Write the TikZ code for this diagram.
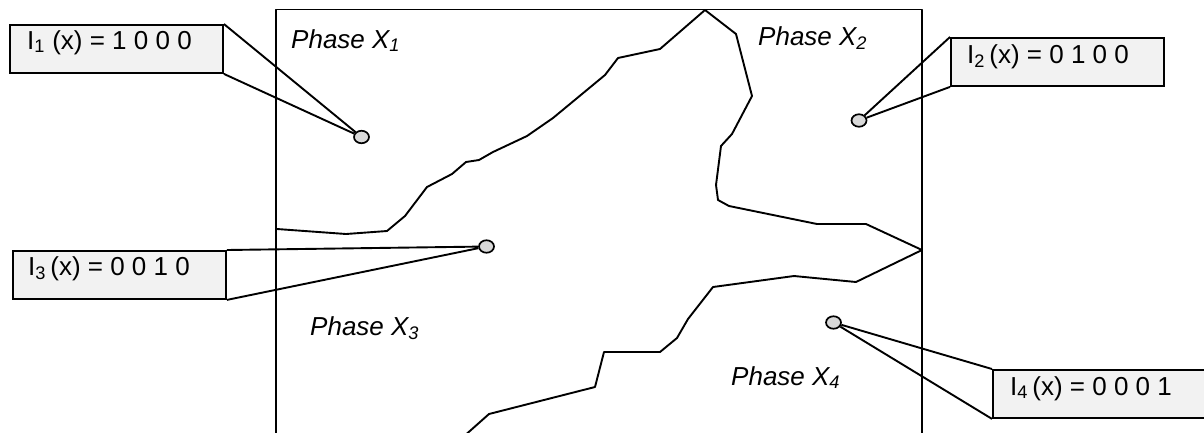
\documentclass[tikz,border=0pt]{standalone}
\usepackage{fontspec}
\setmainfont{Liberation Sans}
\usetikzlibrary{shapes.geometric,calc}
\definecolor{boxfill}{HTML}{F2F2F2}
\definecolor{dotfill}{HTML}{D9D9D9}
\tikzset{
  edge/.style={line width=1.9pt, line join=round},
  callout/.style={draw, line width=1.9pt, fill=boxfill, minimum width=213pt, minimum height=48pt, anchor=north west, inner sep=0pt},
  probe/.style={ellipse, draw, line width=1.7pt, fill=dotfill, minimum width=15pt, minimum height=12.5pt, inner sep=0pt},
  boxtext/.style={anchor=base west, inner sep=0pt, font=\fontsize{26}{31}\selectfont},
  phase/.style={anchor=base west, inner sep=0pt, font=\fontsize{26}{31}\selectfont\itshape},
}
\begin{document}
\begin{tikzpicture}[x=1pt, y=-1pt]
\useasboundingbox (0,0) rectangle (1204,432);
\clip (0,0) rectangle (1204,432);

% domain frame (bottom edge lies outside the view)
\draw[edge] (276,440) |- (922,9.5) -- (922,440);

% phase boundaries
\draw[edge] (277,229) -- (346,234) -- (387,231) -- (405,216) -- (427,187) -- (452,174)
  -- (466,162) -- (479,160) -- (493,152) -- (527,136) -- (553,118) -- (605,75)
  -- (618,58) -- (660,49) -- (705,10) -- (736,34) -- (752,96) -- (732,134)
  -- (721,146) -- (716,185) -- (718,200) -- (729,206) -- (817,224) -- (866,224)
  -- (922,250) -- (856,282) -- (794,276) -- (713,287) -- (688,319) -- (677,338)
  -- (660,352) -- (604,352) -- (595,387) -- (489,414) -- (462,438);

% phase labels
\node[phase] (p1) at (291,48) {Phase X\textsubscript{1}};
\node[phase] (p2) at (758,45) {Phase X\textsubscript{2}};
\node[phase] (p3) at (310,335) {Phase X\textsubscript{3}};
\node[phase] (p4) at (731,385) {Phase X\textsubscript{4}};

% sample points
\node[probe] (d1) at (361.5,137) {};
\node[probe] (d2) at (859,120.5) {};
\node[probe] (d3) at (486.5,246.5) {};
\node[probe] (d4) at (833.5,322.5) {};

% indicator boxes
\node[callout] (b1) at (9,24) {};
\node[callout] (b2) at (950,37) {};
\node[callout] (b3) at (12,250) {};
\node[callout] (b4) at (992,369) {};

\node[boxtext] (t1) at ($(b1.north west)+(18,25)$) {I\textsubscript{1} (x) = 1 0 0 0};
\node[boxtext] (t2) at ($(b2.north west)+(17,26)$) {I\textsubscript{2}\,(x) = 0 1 0 0};
\node[boxtext] (t3) at ($(b3.north west)+(16,25)$) {I\textsubscript{3}\,(x) = 0 0 1 0};
\node[boxtext] (t4) at ($(b4.north west)+(18,26)$) {I\textsubscript{4}\,(x) = 0 0 0 1};

% leader lines
\draw[edge] (b1.north east) -- (d1) -- (b1.south east);
\draw[edge] (b2.north west) -- (d2) -- (b2.south west);
\draw[edge] (b3.north east) -- (d3) -- (b3.south east);
\draw[edge] (b4.north west) -- (d4) -- (b4.south west);
\end{tikzpicture}
\end{document}
